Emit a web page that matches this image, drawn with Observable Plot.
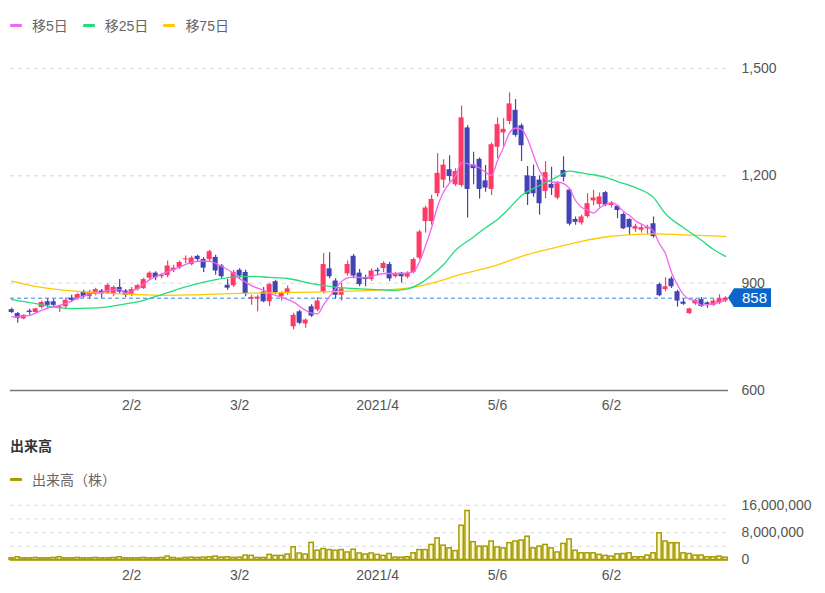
<!DOCTYPE html>
<html><head><meta charset="utf-8">
<script src="https://cdn.jsdelivr.net/npm/d3@7"></script>
<script src="https://cdn.jsdelivr.net/npm/@observablehq/plot@0.6"></script>
<style>
body{margin:0;background:#fff;font-family:"Liberation Sans","Noto Sans CJK JP",sans-serif;}
#wrap{position:relative;width:825px;height:593px;overflow:hidden;background:#fff;}
#wrap svg{position:absolute;left:0;}
.legend{position:absolute;left:10px;display:flex;align-items:center;font-size:14px;color:#666;height:20px;}
.legend .item{display:flex;align-items:center;margin-right:15px;}
.legend .sw{display:inline-block;width:12px;height:3px;margin-right:10px;border-radius:1px;}
#volTitle{position:absolute;left:10px;top:435px;font-size:14px;font-weight:bold;color:#333;}
#lastLabel{position:absolute;width:43px;height:19px;background:#0b66cc;color:#fff;font-size:15px;line-height:19px;text-align:right;box-sizing:border-box;padding-right:4px;clip-path:polygon(0 50%,6px 0,100% 0,100% 100%,6px 100%);}
</style></head>
<body><div id="wrap">
<div class="legend" style="top:15px">
  <div class="item"><span class="sw" style="background:#f266f0"></span>移5日</div>
  <div class="item"><span class="sw" style="background:#22dd7a"></span>移25日</div>
  <div class="item"><span class="sw" style="background:#ffc800"></span>移75日</div>
</div>
<div id="volTitle">出来高</div>
<div class="legend" style="top:469px">
  <div class="item"><span class="sw" style="background:#a69c00"></span>出来高（株）</div>
</div>
</div>
<script>
// ---- data ----
const opens = [826,815,800,822,818,832,848,848,830,834,
858,857,876,862,871,878,872,868,888,878,
868,882,885,914,928,918,921,936,943,965,
952,975,966,966,972,948,894,893,936,930,
855,856,875,848,904,862,872,778,820,786,
834,825,875,940,906,866,926,975,928,914,
910,936,941,952,918,928,917,930,970,1072,
1072,1150,1188,1217,1175,1173,1334,1230,1246,1186,
1162,1280,1320,1352,1383,1340,1200,1198,1188,1156,
1176,1138,1215,1160,1078,1068,1086,1130,1120,1153,
1117,1115,1092,1078,1051,1048,1052,1066,896,882,
912,876,847,815,842,854,845,838,844,850];
const highs = [830,818,812,827,830,850,856,855,838,858,
866,872,880,880,886,882,898,892,910,882,
888,896,914,932,932,926,962,950,962,976,
975,978,972,992,978,952,910,936,940,936,
866,866,888,900,908,876,892,816,824,800,
840,860,983,985,912,900,962,980,938,922,
940,942,960,958,930,930,932,970,1048,1115,
1146,1262,1245,1256,1220,1395,1340,1266,1250,1229,
1292,1362,1360,1432,1413,1345,1226,1230,1200,1240,
1224,1184,1253,1165,1085,1090,1150,1160,1152,1156,
1128,1118,1096,1080,1065,1062,1062,1085,900,915,
918,880,855,830,856,860,848,855,868,862];
const lows = [815,788,798,810,815,828,830,832,818,828,
846,852,858,855,865,858,868,862,870,860,
862,878,882,910,907,912,915,930,938,954,
948,960,930,960,922,912,880,888,910,862,
838,820,845,835,868,850,866,770,784,774,
804,820,870,912,856,850,920,912,890,890,
905,920,930,905,914,900,912,926,965,1040,
1062,1140,1165,1183,1170,1168,1082,1175,1135,1154,
1145,1248,1280,1343,1308,1240,1117,1140,1090,1136,
1145,1133,1183,1060,1062,1062,1082,1116,1112,1114,
1110,1080,1050,1033,1042,1040,1035,1026,862,876,
885,833,838,812,838,832,830,835,840,846];
const closes = [818,802,810,818,828,846,838,838,834,852,
852,868,862,875,882,870,894,888,875,866,
882,893,910,928,915,922,948,942,958,968,
970,966,942,988,934,918,886,930,920,870,
860,861,848,896,872,872,884,810,788,797,
808,850,952,918,866,884,952,920,896,910,
934,932,955,912,926,918,928,966,1043,1110,
1134,1207,1230,1198,1212,1362,1162,1220,1162,1166,
1287,1343,1330,1401,1313,1284,1148,1150,1122,1209,
1165,1178,1196,1065,1070,1085,1122,1138,1141,1118,
1122,1103,1052,1055,1058,1055,1056,1030,865,890,
890,850,841,828,852,835,840,850,856,858];
// volume in millions of shares
const volumesM = [0.5,0.8,0.5,0.5,0.6,0.5,0.5,0.6,0.8,0.5,
0.5,0.6,0.5,0.5,0.6,0.5,0.5,0.6,0.8,0.5,
0.5,0.5,0.6,0.5,0.5,0.6,1.0,0.6,0.4,0.6,
0.7,0.6,0.7,0.8,1.0,0.7,0.8,0.6,0.7,1.3,
1.2,0.6,0.6,1.5,1.2,1.2,1.6,3.7,1.9,1.6,
5.0,2.7,3.2,2.9,2.7,2.9,2.2,3.0,1.9,1.6,
1.9,1.5,1.2,1.75,0.7,0.7,0.8,1.95,2.9,2.9,
4.4,6.3,4.2,3.4,2.6,10.0,14.3,5.2,3.9,3.9,
5.4,3.7,3.4,4.9,5.4,5.7,6.8,3.4,3.9,4.4,
3.4,2.2,4.7,6.0,2.7,1.95,1.95,1.95,1.5,1.2,
1.0,1.65,1.75,1.95,0.8,0.8,1.3,1.95,7.8,5.4,
4.9,4.9,1.95,1.75,1.3,1.3,0.8,0.8,1.0,0.7];
const ma5Day = [0,2,3,5,6,8,10,11,13,15,16,18,19,21,23,25,28,30,32,33,35,37,38,39,40,42,44,47,49,50,51,52,54,55,56,57,59,60,62,65,66,67,68,69,70,71,72,73,74,75,77,78,79,80,81,82,83,84,85,86,87,88,89,90,91,92,93,94,95,96,97,98,99,100,101,102,103,104,105,106,107,108,109,110,111,112,113,114,115,116,117,118,119];
const ma5Val = [806,808,810,824,830,838,850,858,870,874,880,882,873,885,910,925,945,958,962,961,947,927,912,903,893,880,866,847,824,816,814,840,885,905,915,917,915,919,927,927,928,932,960,1005,1055,1115,1155,1180,1200,1236,1229,1222,1210,1201,1243,1280,1320,1333,1330,1303,1257,1215,1191,1182,1182,1178,1164,1131,1112,1104,1096,1110,1120,1126,1117,1100,1089,1074,1065,1057,1045,1010,982,930,895,868,855,850,838,840,842,847,852];
const ma25Day = [0,4,7,10,13,16,19,22,25,28,31,34,37,40,43,46,50,54,58,62,64,66,68,70,72,74,77,79,81,83,85,88,91,93,95,97,99,101,104,107,109,112,115,117,119];
const ma25Val = [854,843,833,829,830,834,842,852,868,885,899,910,917,919,916,913,899,889,884,881,880,884,898,922,952,992,1029,1055,1078,1110,1145,1173,1198,1213,1208,1203,1196,1184,1167,1139,1094,1055,1020,994,975];
const ma75Day = [0,4,9,15,20,25,30,35,40,50,60,66,70,75,81,85,90,95,99,103,107,112,119];
const ma75Val = [906,891,880,873,869,866,867,870,872,875,880,886,900,925,951,975,997,1017,1029,1035,1038,1035,1031];
const priceTicks = [600,900,1200,1500];
const volTicks = [0,8000000,16000000];
const volGrid = [4000000,8000000,12000000,16000000];
const tickDays = [20,38,61,81,100];
const tickLabels = ["2/2","3/2","2021/4","5/6","6/2"];

// ---- build tables ----
const candles = closes.map((c,i)=>({i,o:opens[i],h:highs[i],l:lows[i],c}));
const up = candles.filter(d=>d.c>=d.o), down = candles.filter(d=>d.c<d.o);
const vols = volumesM.map((v,i)=>({i,v:v*1e6}));
const pairs = (xs,ys)=>xs.map((x,k)=>({i:x,v:ys[k]}));
const ma5 = pairs(ma5Day,ma5Val), ma25 = pairs(ma25Day,ma25Val), ma75 = pairs(ma75Day,ma75Val);
const last = closes[closes.length-1];

const RED="#ff3a66", BLUE="#4343b6";
const FONT='"Liberation Sans","Noto Sans CJK JP",sans-serif';
const xDomain=[-0.2,119.5];
const fmtX = d=>tickLabels[tickDays.indexOf(d)];
const fmtN = d3.format(",");
const hw = 0.42;

const price = Plot.plot({
  width:825, height:420, marginTop:68, marginBottom:30, marginLeft:10, marginRight:97,
  style:{fontFamily:FONT,fontSize:"14px",color:"#555",background:"transparent",overflow:"visible"},
  x:{domain:xDomain, axis:"bottom", ticks:tickDays, tickFormat:fmtX, tickSize:0, tickPadding:10, label:null},
  y:{domain:[600,1500], axis:"right", ticks:priceTicks, tickFormat:fmtN, tickSize:0, tickPadding:13, label:null},
  marks:[
    Plot.ruleY(priceTicks.filter(t=>t>600),{stroke:"#d9d9d9",strokeDasharray:"4,4"}),
    Plot.ruleY([last],{stroke:"#3a86dc",strokeDasharray:"4,3",strokeWidth:1}),
    Plot.ruleX(up,{x:"i",y1:"l",y2:"h",stroke:RED,strokeWidth:1.2}),
    Plot.ruleX(down,{x:"i",y1:"l",y2:"h",stroke:BLUE,strokeWidth:1.2}),
    Plot.rect(up,{x1:d=>d.i-hw,x2:d=>d.i+hw,y1:"o",y2:"c",fill:RED}),
    Plot.rect(down,{x1:d=>d.i-hw,x2:d=>d.i+hw,y1:"o",y2:"c",fill:BLUE}),
    Plot.line(ma75,{x:"i",y:"v",stroke:"#ffc800",strokeWidth:1.3,curve:"monotone-x"}),
    Plot.line(ma25,{x:"i",y:"v",stroke:"#22dd7a",strokeWidth:1.3,curve:"monotone-x"}),
    Plot.line(ma5,{x:"i",y:"v",stroke:"#f266f0",strokeWidth:1.3,curve:"monotone-x"}),
    Plot.ruleY([600],{stroke:"#777",strokeWidth:1.5})
  ]
});
price.style.top="0px";
document.getElementById("wrap").appendChild(price);

const vol = Plot.plot({
  width:825, height:103, marginTop:14.7, marginBottom:33.5, marginLeft:10, marginRight:97,
  style:{fontFamily:FONT,fontSize:"14px",color:"#555",background:"transparent",overflow:"visible"},
  x:{domain:xDomain, axis:"bottom", ticks:tickDays, tickFormat:fmtX, tickSize:0, tickPadding:10, label:null},
  y:{domain:[0,16000000], axis:"right", ticks:volTicks, tickFormat:fmtN, tickSize:0, tickPadding:13, label:null},
  marks:[
    Plot.ruleY(volGrid,{stroke:"#d9d9d9",strokeDasharray:"4,4"}),
    Plot.rect(vols,{x1:d=>d.i-0.36,x2:d=>d.i+0.36,y1:0,y2:"v",fill:"#fdf9d6",stroke:"#a69c00",strokeWidth:1.5}),
    Plot.ruleY([0],{stroke:"#a69c00",strokeWidth:1.5})
  ]
});
vol.style.top="490px";
document.getElementById("wrap").appendChild(vol);

// last-price label positioned with the y scale
const yS = price.scale("y"), xS = price.scale("x");
const lab = document.createElement("div");
lab.id="lastLabel";
lab.textContent = String(last);
lab.style.left = (xS.range[1]) + "px";
lab.style.top = (yS.apply(last) - 9.5) + "px";
document.getElementById("wrap").appendChild(lab);
</script>
</body></html>
